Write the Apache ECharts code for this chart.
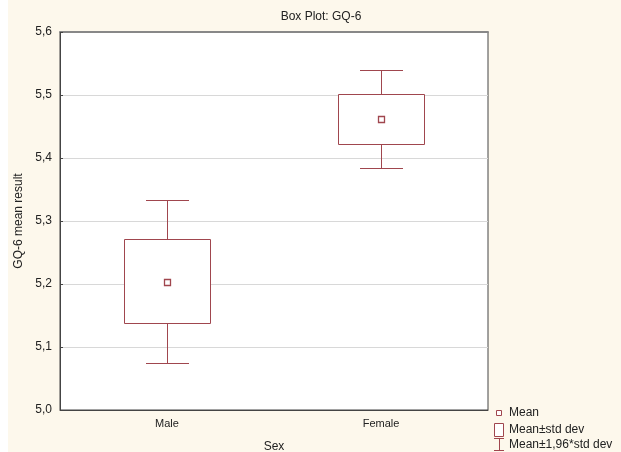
<!DOCTYPE html>
<html><head><meta charset="utf-8">
<script src="https://cdn.jsdelivr.net/npm/echarts@6/dist/echarts.min.js"></script>
<style>html,body{margin:0;padding:0;background:#fff}#c{width:621px;height:452px}</style>
</head><body><div id="c"></div>
<script>
const categories = ['Male', 'Female'];
const means  = [5.203, 5.461];
const sdLow  = [5.138, 5.421];
const sdHigh = [5.270, 5.500];
const ciLow  = [5.074, 5.383];
const ciHigh = [5.333, 5.539];
const yMin = 5.0, yMax = 5.6, yStep = 0.1;
const legendLabels = ['Mean', 'Mean±std dev', 'Mean±1,96*std dev'];

const FONT = "'Liberation Sans', Arial, sans-serif";
const RED = '#a0464e';
const TXT = '#222';

const data = categories.map((c, i) => [i, means[i], sdLow[i], sdHigh[i], ciLow[i], ciHigh[i]]);

function crisp(v) { return Math.round(v - 0.5) + 0.5; }

function renderItem(params, api) {
  const i = api.value(0);
  const band = api.size([1, 0])[0];
  const cx = crisp(api.coord([i, 0])[0]);
  const yMean = api.coord([i, api.value(1)])[1];
  const ySL = crisp(api.coord([i, api.value(2)])[1]);
  const ySH = crisp(api.coord([i, api.value(3)])[1]);
  const yCL = crisp(api.coord([i, api.value(4)])[1]);
  const yCH = crisp(api.coord([i, api.value(5)])[1]);
  const bw = band * 0.4, cw = band * 0.2;
  const st = { stroke: RED, lineWidth: 1, fill: null };
  return {
    type: 'group',
    children: [
      { type: 'line', shape: { x1: cx, y1: yCH, x2: cx, y2: ySH }, style: st },
      { type: 'line', shape: { x1: cx, y1: ySL, x2: cx, y2: yCL }, style: st },
      { type: 'line', shape: { x1: Math.round(cx - cw / 2), y1: yCH, x2: Math.round(cx + cw / 2), y2: yCH }, style: st },
      { type: 'line', shape: { x1: Math.round(cx - cw / 2), y1: yCL, x2: Math.round(cx + cw / 2), y2: yCL }, style: st },
      { type: 'rect', shape: { x: crisp(cx - bw / 2), y: ySH, width: Math.round(bw), height: ySL - ySH }, style: { stroke: RED, lineWidth: 1, fill: '#fff' } },
      { type: 'rect', shape: { x: cx - 3, y: crisp(yMean) - 3, width: 6, height: 6 }, style: { stroke: RED, lineWidth: 1.3, fill: '#fff' } }
    ]
  };
}

const chart = echarts.init(document.getElementById('c'), null, { renderer: 'canvas' });
const ly = 413;
chart.setOption({
  backgroundColor: '#fdf8ec',
  animation: false,
  textStyle: { fontFamily: FONT },
  title: {
    text: 'Box Plot: GQ-6', left: 316, top: 6, textAlign: 'center',
    textStyle: { fontFamily: FONT, fontSize: 12, fontWeight: 'normal', color: TXT }
  },
  grid: { left: 60, right: 133, top: 32, bottom: 42, outerBoundsMode: 'none', containLabel: false,
    show: true, backgroundColor: '#fff', borderColor: '#444', borderWidth: 1 },
  xAxis: [{
    type: 'category', data: categories, boundaryGap: true,
    name: 'Sex', nameLocation: 'middle', nameGap: 31,
    nameTextStyle: { fontFamily: FONT, fontSize: 12, color: TXT },
    axisLine: { lineStyle: { color: '#444' } },
    axisTick: { inside: true, length: 3, alignWithLabel: true, lineStyle: { color: '#444' } },
    axisLabel: { margin: 8, fontFamily: FONT, fontSize: 11, color: TXT },
    splitLine: { show: false }
  }, {
    type: 'category', data: categories, position: 'top', boundaryGap: true,
    axisLine: { lineStyle: { color: '#888', width: 2 } },
    axisTick: { inside: true, length: 3, alignWithLabel: true, lineStyle: { color: '#444' } },
    axisLabel: { show: false }
  }],
  yAxis: {
    type: 'value', min: yMin, max: yMax, interval: yStep,
    name: 'GQ-6 mean result', nameLocation: 'middle', nameGap: 33,
    nameTextStyle: { fontFamily: FONT, fontSize: 12, color: TXT },
    axisLine: { show: true, lineStyle: { color: '#444' } },
    axisTick: { show: true, inside: true, length: 3, lineStyle: { color: '#444' } },
    axisLabel: { margin: 8, fontFamily: FONT, fontSize: 12, color: TXT, formatter: v => v.toFixed(1).replace('.', ',') },
    splitLine: { show: true, lineStyle: { color: '#d8d8d8', width: 1 } }
  },
  series: [{
    type: 'custom', renderItem: renderItem, data: data, xAxisIndex: 0,
    encode: { x: 0, y: [1, 2, 3, 4, 5] }, z: 5
  }],
  graphic: [
    { type: 'rect', left: 0, top: 0, shape: { width: 8, height: 452 }, style: { fill: '#fff' }, silent: true, z: -1 },
    { type: 'rect', shape: { x: 496.5, y: ly - 2.5, width: 5, height: 5 }, style: { stroke: RED, fill: '#fff', lineWidth: 1 } },
    { type: 'text', x: 509, y: ly, style: { text: legendLabels[0], font: '12px ' + FONT, fill: TXT, verticalAlign: 'middle' } },
    { type: 'rect', shape: { x: 494.5, y: 423.5, width: 9, height: 13 }, style: { stroke: RED, fill: '#fff', lineWidth: 1 } },
    { type: 'text', x: 509, y: 430, style: { text: legendLabels[1], font: '12px ' + FONT, fill: TXT, verticalAlign: 'middle' } },
    { type: 'line', shape: { x1: 494, y1: 438.5, x2: 504, y2: 438.5 }, style: { stroke: RED, lineWidth: 1 } },
    { type: 'line', shape: { x1: 499.5, y1: 438.5, x2: 499.5, y2: 450.5 }, style: { stroke: RED, lineWidth: 1 } },
    { type: 'line', shape: { x1: 494, y1: 450.5, x2: 504, y2: 450.5 }, style: { stroke: RED, lineWidth: 1 } },
    { type: 'text', x: 509, y: 445, style: { text: legendLabels[2], font: '12px ' + FONT, fill: TXT, verticalAlign: 'middle' } }
  ]
});
</script></body></html>
